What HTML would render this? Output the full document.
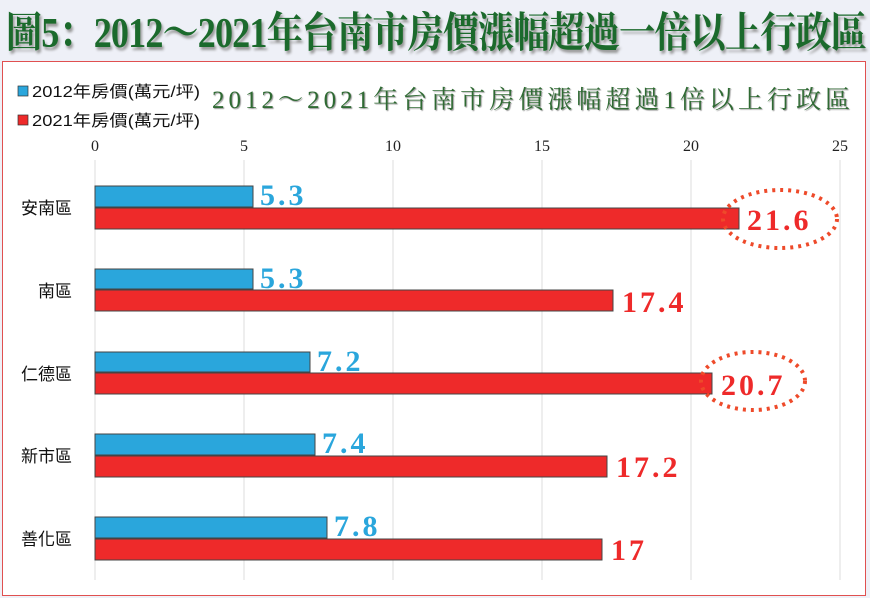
<!DOCTYPE html>
<html><head><meta charset="utf-8"><style>
body{margin:0;width:870px;height:598px;background:#eef0f7;position:relative;overflow:hidden;font-family:"Liberation Serif","Noto Serif CJK SC",serif}
.t{position:absolute;left:6px;top:0px;font-size:42px;font-weight:bold;color:#1b6a2c;letter-spacing:-1px;text-shadow:2px 3px 3px #999;white-space:nowrap;transform:scaleX(0.86);transform-origin:left}
.panel{position:absolute;left:2px;top:61px;width:862px;height:533px;background:#fff;border:1.5px solid #e05050}
</style></head><body>
<div class="t">圖5：2012～2021年台南市房價漲幅超過一倍以上行政區</div>
<div class="panel"></div>
<svg width="870" height="598" style="position:absolute;left:0;top:0">
<g stroke="#dcdcdc" stroke-width="1">
<line x1="95" y1="160" x2="95" y2="580"/><line x1="244" y1="160" x2="244" y2="580"/><line x1="393" y1="160" x2="393" y2="580"/><line x1="542" y1="160" x2="542" y2="580"/><line x1="691" y1="160" x2="691" y2="580"/><line x1="840" y1="160" x2="840" y2="580"/>
</g>
<g font-family="Liberation Serif,serif" font-size="16" fill="#222" text-anchor="middle">
<text x="95" y="151">0</text><text x="244" y="151">5</text><text x="393" y="151">10</text><text x="542" y="151">15</text><text x="691" y="151">20</text><text x="840" y="151">25</text>
</g>
<rect x="18" y="86" width="10" height="10" fill="#2aa6dc" stroke="#333" stroke-width="0.7"/>
<rect x="18" y="115" width="10" height="10" fill="#ee2a2a" stroke="#333" stroke-width="0.7"/>
<g font-family="Liberation Sans,Noto Sans CJK TC,sans-serif" font-size="16" fill="#111">
<text x="32" y="97" textLength="168" lengthAdjust="spacingAndGlyphs">2012年房價(萬元/坪)</text><text x="32" y="126" textLength="168" lengthAdjust="spacingAndGlyphs">2021年房價(萬元/坪)</text>
</g>
<text x="212" y="108" font-size="25" fill="#2f6a33" font-family="Liberation Serif,Noto Serif CJK SC,serif" textLength="638" lengthAdjust="spacing" style="text-shadow:1px 1px 1px #999">2012～2021年台南市房價漲幅超過1倍以上行政區</text>
<g stroke="#444" stroke-width="1">
<rect x="95" y="186" width="158" height="21" fill="#2aa6dc"/><rect x="95" y="208" width="644" height="21" fill="#ee2a2a"/>
<rect x="95" y="269" width="158" height="20" fill="#2aa6dc"/><rect x="95" y="290" width="518" height="21" fill="#ee2a2a"/>
<rect x="95" y="352" width="215" height="20" fill="#2aa6dc"/><rect x="95" y="373" width="617" height="21" fill="#ee2a2a"/>
<rect x="95" y="434" width="220" height="21" fill="#2aa6dc"/><rect x="95" y="456" width="512" height="21" fill="#ee2a2a"/>
<rect x="95" y="517" width="232" height="21" fill="#2aa6dc"/><rect x="95" y="539" width="507" height="21" fill="#ee2a2a"/>
</g>
<g font-family="Liberation Sans,Noto Sans CJK TC,sans-serif" font-size="17" fill="#111" text-anchor="end">
<text x="72" y="214">安南區</text><text x="72" y="297">南區</text><text x="72" y="380">仁德區</text><text x="72" y="462">新市區</text><text x="72" y="545">善化區</text>
</g>
<g font-family="Liberation Serif,serif" font-size="30" font-weight="bold" letter-spacing="3">
<text x="260" y="205" fill="#2aa6dc">5.3</text><text x="747" y="230" fill="#ee2a2a">21.6</text>
<text x="260" y="288" fill="#2aa6dc">5.3</text><text x="622" y="312" fill="#ee2a2a">17.4</text>
<text x="317" y="371" fill="#2aa6dc">7.2</text><text x="721" y="395" fill="#ee2a2a">20.7</text>
<text x="322" y="453" fill="#2aa6dc">7.4</text><text x="616" y="477" fill="#ee2a2a">17.2</text>
<text x="334" y="536" fill="#2aa6dc">7.8</text><text x="611" y="560" fill="#ee2a2a">17</text>
</g>
<g fill="none" stroke="#ee4a2a" stroke-width="4" stroke-dasharray="3 5">
<ellipse cx="780" cy="219" rx="57" ry="29"/><ellipse cx="753" cy="381" rx="52" ry="29"/>
</g>
</svg>
</body></html>
